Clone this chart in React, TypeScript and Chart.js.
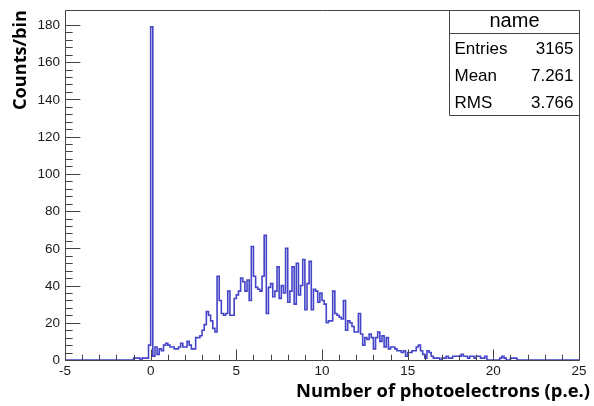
import React, { useEffect, useRef } from "react";
import { Chart, registerables } from "chart.js";
Chart.register(...registerables);

const xMin = -5;
const xMax = 25;
const yMin = 0;
const yMax = 188;
const binWidth = 0.125;
const firstBinEdge = -1.0;
const counts = [
  1, 1, 1, 0, 1, 1, 1, 8,
  179,
  2, 7, 3, 6, 5, 8, 9, 8, 7, 7, 6,
  6, 7, 9, 7, 7, 10, 8, 6, 6,
  12, 12, 13, 16, 19, 26, 24, 21, 17, 15, 45,
  32, 25, 24, 25, 37, 24, 24, 33,
  35, 37, 44, 42, 37, 43, 32, 61,
  45, 39, 38, 37, 45, 67, 25, 39,
  41, 34, 37, 50, 33, 40, 36, 60,
  31, 37, 50, 30, 52, 35, 40, 54,
  27, 41, 53, 27, 38, 37, 31, 36,
  32, 30, 20, 21, 21, 37, 25, 24,
  23, 22, 32, 16, 21, 20, 18, 15,
  15, 25, 14, 8, 12, 11, 14, 12,
  6, 12, 15, 10, 13, 7, 12, 6,
  7, 7, 6, 5, 5, 4, 5, 2,
  4, 4, 5, 5, 7, 8, 5, 3,
  1, 5, 4, 2, 1, 1, 1, 0,
  1, 1, 2, 1, 1, 2, 2, 2,
  2, 3, 2, 2, 1, 2, 2, 1,
  2, 2, 1, 1, 2, 0, 0, 0,
  0, 0, 0, 1, 2, 1, 0, 0,
  1, 1, 1,
];
const xTickLabels = [-5, 0, 5, 10, 15, 20, 25];
const xMinorStep = 1;
const yTickLabels = [0, 20, 40, 60, 80, 100, 120, 140, 160, 180];
const yMinorStep = 4;
const xTitle = "Number of photoelectrons (p.e.)";
const yTitle = "Counts/bin";
const statsTitle = "name";
const statsLabels = ["Entries", "Mean", "RMS"];
const statsValues = ["3165", "7.261", "3.766"];

const LINE_COLOR = "#4444c8";
const AXIS_COLOR = "#444";
const LABEL_FONT = '13.5px "Liberation Sans", Arial, sans-serif';
const TITLE_FAMILY = '"Open Sans", "Noto Sans", sans-serif';

function fitFont(ctx: CanvasRenderingContext2D, text: string, width: number) {
  ctx.font = `bold 20px ${TITLE_FAMILY}`;
  const w = ctx.measureText(text).width;
  const size = (20 * width) / w;
  return `bold ${size.toFixed(2)}px ${TITLE_FAMILY}`;
}

const overlayPlugin = {
  id: "rootOverlay",
  afterDraw(chart: any) {
    const ctx = chart.ctx as CanvasRenderingContext2D;
    const xs = chart.scales.x;
    const ys = chart.scales.y;
    const { left, right, top, bottom } = chart.chartArea;
    ctx.save();
    ctx.strokeStyle = AXIS_COLOR;
    ctx.lineWidth = 1;
    ctx.beginPath();
    ctx.rect(Math.round(left) + 0.5, Math.round(top) + 0.5, Math.round(right - left), Math.round(bottom - top));
    ctx.stroke();

    ctx.beginPath();
    for (let v = xMin; v <= xMax + 1e-9; v += xMinorStep) {
      const px = Math.round(xs.getPixelForValue(v)) + 0.5;
      const major = xTickLabels.includes(v);
      const len = major ? 10.5 : 5.25;
      ctx.moveTo(px, bottom);
      ctx.lineTo(px, bottom - len);
    }
    for (let v = yMin; v <= 180 + 1e-9; v += yMinorStep) {
      const py = Math.round(ys.getPixelForValue(v)) + 0.5;
      const major = yTickLabels.includes(v);
      const len = major ? 15.4 : 7.7;
      ctx.moveTo(left, py);
      ctx.lineTo(left + len, py);
    }
    ctx.stroke();

    ctx.fillStyle = "#1a1a1a";
    ctx.font = LABEL_FONT;
    ctx.textAlign = "center";
    ctx.textBaseline = "middle";
    xTickLabels.forEach((v) => {
      ctx.fillText(String(v), xs.getPixelForValue(v), bottom + 11);
    });
    ctx.textAlign = "right";
    yTickLabels.forEach((v) => {
      ctx.fillText(String(v), left - 5, ys.getPixelForValue(v) + 0.5);
    });

    ctx.fillStyle = "#000";
    ctx.textAlign = "right";
    ctx.textBaseline = "alphabetic";
    ctx.font = fitFont(ctx, xTitle, 294);
    ctx.fillText(xTitle, 590, 397);
    ctx.save();
    ctx.font = fitFont(ctx, yTitle, 100);
    ctx.translate(26, top);
    ctx.rotate(-Math.PI / 2);
    ctx.textAlign = "right";
    ctx.fillText(yTitle, 0, 0);
    ctx.restore();

    const bx = 449.5, by = Math.round(top) + 0.5, bw = Math.round(right) - 449, bh = 105;
    ctx.fillStyle = "#fff";
    ctx.fillRect(bx, by, bw, bh);
    ctx.strokeStyle = AXIS_COLOR;
    ctx.beginPath();
    ctx.rect(bx, by, bw, bh);
    ctx.moveTo(bx, by + 23);
    ctx.lineTo(bx + bw, by + 23);
    ctx.stroke();
    ctx.fillStyle = "#000";
    ctx.font = '20px "Liberation Sans", Arial, sans-serif';
    ctx.textAlign = "center";
    ctx.textBaseline = "middle";
    ctx.fillText(statsTitle, bx + bw / 2, by + 11);
    ctx.font = '17px "Liberation Sans", Arial, sans-serif';
    statsLabels.forEach((lab, i) => {
      const yy = by + 39 + i * 27;
      ctx.textAlign = "left";
      ctx.fillText(lab, bx + 5, yy);
      ctx.textAlign = "right";
      ctx.fillText(statsValues[i], bx + bw - 6, yy);
    });
    ctx.restore();
  },
};

export default function App() {
  const ref = useRef<HTMLCanvasElement | null>(null);
  useEffect(() => {
    if (!ref.current) return;
    const pts: { x: number; y: number }[] = [{ x: xMin, y: 0 }];
    counts.forEach((c, i) => pts.push({ x: firstBinEdge + i * binWidth, y: c }));
    pts.push({ x: firstBinEdge + counts.length * binWidth, y: 0 });
    pts.push({ x: xMax, y: 0 });
    const chart = new Chart(ref.current, {
      type: "line",
      data: {
        datasets: [
          {
            data: pts,
            borderColor: LINE_COLOR,
            borderWidth: 1.6,
            pointRadius: 0,
            fill: false,
            stepped: true,
            tension: 0,
          },
        ],
      },
      options: {
        animation: false,
        responsive: false,
        maintainAspectRatio: false,
        layout: { padding: { left: 65, top: 10, right: 15, bottom: 46 } },
        plugins: { legend: { display: false }, tooltip: { enabled: false } },
        events: [],
        scales: {
          x: { type: "linear", min: xMin, max: xMax, display: false },
          y: { type: "linear", min: yMin, max: yMax, display: false },
        },
      },
      plugins: [overlayPlugin],
    });
    return () => chart.destroy();
  }, []);
  return (
    <div style={{ position: "absolute", left: 0, top: 0, width: 594, height: 406, background: "#fff" }}>
      <canvas ref={ref} width={594} height={406} style={{ display: "block", width: 594, height: 406 }} />
    </div>
  );
}
